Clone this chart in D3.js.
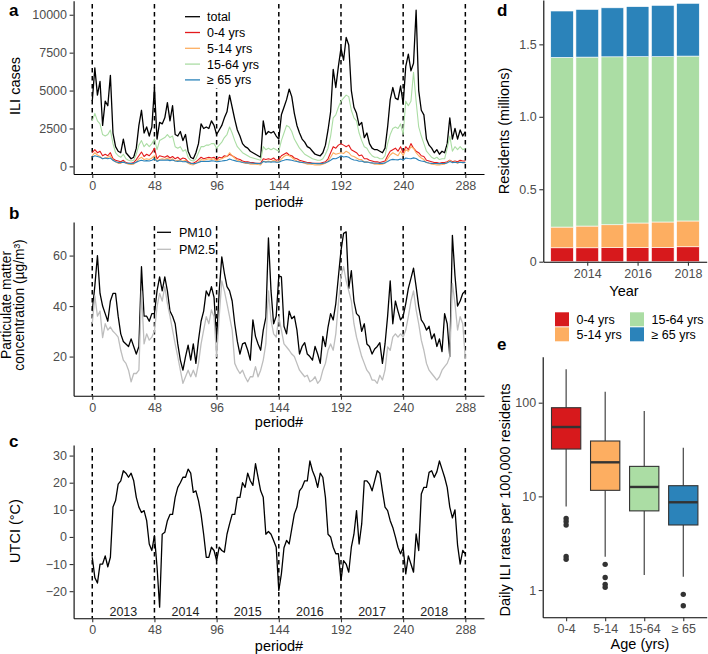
<!DOCTYPE html>
<html>
<head>
<meta charset="utf-8">
<script src="https://cdn.jsdelivr.net/npm/d3@7"></script>
<style>
body { margin: 0; background: #fff; }
svg { font-family: "Liberation Sans", Arial, sans-serif; }
</style>
</head>
<body>
<script>

// periods sampled every 2 (0..288)
var PERIOD = d3.range(0, 289, 2);

// panel a: ILI cases
var TOTAL = [4300,6500,4700,5600,2700,4300,4000,6000,2200,1300,1000,900,1800,900,700,500,600,1200,2700,3700,
  2200,2600,2000,2600,5200,1800,2900,2800,3200,4200,3000,4000,2100,2000,2300,1700,2100,1000,600,500,
  900,1500,2800,2500,2600,2500,3000,2700,2100,2400,2700,3200,3600,4700,3900,3100,2400,2000,1500,1300,
  1200,1000,900,800,700,600,3000,2100,2300,2200,2300,2000,1800,3400,3900,4400,5100,4600,3500,2700,
  2200,1800,1600,1300,1200,1000,800,750,700,900,1400,2400,3600,6400,5200,6600,7800,7000,8500,8000,
  5000,3900,3500,2700,2900,1900,2200,1500,1200,1100,1100,1000,900,1200,2600,4400,5200,4500,4400,5300,
  4100,6600,7400,6300,6800,10300,5000,3700,3400,1800,1400,1200,900,1100,800,1000,900,1500,3200,1800,
  2500,1800,2400,2000,2300];
var AGE_0_4 = [900,1100,900,1000,700,800,700,900,500,400,350,300,400,250,200,200,250,450,700,950,
  650,800,700,900,1200,500,700,650,600,700,550,650,500,600,450,550,500,300,200,200,
  300,450,600,500,550,600,550,600,450,600,550,700,650,800,700,600,500,450,350,300,
  300,250,250,200,200,200,500,450,500,450,550,400,450,700,800,900,750,700,550,500,
  400,350,300,250,250,200,200,200,200,250,300,500,900,1300,1200,1400,1500,1400,1300,1400,
  1100,1000,900,700,750,500,500,400,350,300,300,250,300,350,700,1000,1100,1200,1000,1300,
  900,1300,1100,1500,1200,1000,900,700,650,400,350,300,250,250,200,250,250,300,400,300,
  350,300,400,350,350];
var AGE_5_14 = [700,900,750,650,500,550,600,700,400,300,200,200,300,200,150,120,150,300,500,600,
  450,500,450,550,700,350,450,500,450,550,400,500,350,400,350,350,400,200,120,100,
  200,300,450,400,450,500,450,500,350,450,500,600,650,900,700,550,400,350,250,200,
  200,150,150,150,120,100,350,300,350,300,400,300,300,500,650,750,700,600,450,350,
  300,250,200,150,150,120,100,100,100,150,200,350,600,900,800,850,900,850,1000,900,
  700,650,550,450,450,300,300,250,200,150,150,120,150,200,500,750,900,800,700,1000,
  700,1100,1000,1300,1200,900,700,550,450,250,200,150,120,100,100,120,150,250,400,250,
  300,200,300,250,250];
var AGE_15_64 = [3000,3500,3000,2800,2100,2000,2100,2400,1500,900,700,600,800,500,400,350,400,800,1400,1700,
  1300,1500,1300,1500,1800,1100,1700,1800,1900,2100,1900,2000,1300,1200,1300,1000,1100,600,400,350,
  500,900,1300,1300,1400,1400,1500,1500,1200,1400,1600,1900,2100,2600,2200,1700,1300,1100,900,800,
  700,600,550,500,450,400,1300,1100,1200,1100,1200,1100,1000,1700,2200,2700,2600,2300,1800,1500,
  1200,1000,800,700,600,500,450,400,400,500,800,1200,2000,3200,3400,3900,4300,4500,4700,4600,
  3700,3200,3000,2200,1700,1300,1200,900,700,600,600,500,500,700,1500,2100,2500,2600,2500,2800,
  2100,4300,4000,4300,6200,4300,2600,2000,1500,1000,800,600,500,600,450,500,500,1200,2000,1000,
  1300,1100,1300,1100,1200];
var AGE_65 = [600,700,650,600,500,550,500,550,400,300,250,250,280,220,200,180,200,280,350,400,
  350,380,350,400,500,330,400,420,400,430,380,420,350,330,350,300,320,250,200,180,
  200,260,330,320,330,330,360,350,300,330,350,380,400,480,420,380,320,300,260,240,
  230,220,210,200,190,180,320,280,300,280,300,280,270,360,400,450,430,400,350,320,
  280,260,240,220,210,200,190,180,180,200,240,300,400,520,500,580,700,620,650,600,
  480,420,400,340,350,280,290,250,230,210,210,200,200,230,320,420,460,440,430,480,
  420,550,520,500,560,520,400,350,330,250,220,200,190,190,180,190,190,230,320,250,
  270,240,270,250,260];
var ILI_NAMES = ["total", "0-4 yrs", "5-14 yrs", "15-64 yrs", "\u2265 65 yrs"];
var ILI_COLORS = ["#000000", "#e41a1c", "#fdae61", "#abdda4", "#2b83ba"];

// panel b: particulate matter
var PM10 = [38,48,60,45,40,37,34,42,45,45,36,29,26,25,24,27,24,21,24,55.6,
  36,36,34,37,37,46,51.6,46,51.6,46,38,36,33,25,18.6,14.6,20,24.5,18.6,25,
  17.3,26.5,34,38,46,44,47.7,43.5,26.5,46,59.5,53,47.7,46,42,33,26,21,25,25.5,
  22.5,18.6,34.5,28,25,22.5,30.5,35.5,67,46,33,36,52,51.6,32,29,38,35,36,30.5,
  21,24,25.5,21,20,18.6,24,21,17.3,28,24,31.7,37,34.5,41,51.6,62,68.8,69.4,47,
  54,42,37,36,30,33,25,24,21,23,24,25.5,17.3,25,36,50,33,42,38,34.5,
  36,41,47,51,55,47.7,40,34.5,33,30.5,32,27,29,24,27,22,37,33,20,68,
  52,40,42,45,46];
var PM25 = [33,44,36,38,27.5,33,30.5,31.7,30,29,27.7,22.5,18.6,17.3,14.6,10,13.3,13.3,14.6,46,
  25,29,26.5,27.7,30,39.7,45,42,47.7,41,36,30.5,25,20,14.6,9.4,12,14.6,12,14.6,
  12,17.3,25,30.5,35.8,33,38.5,35.8,20,35.8,50,46,41,35.8,30.5,17.3,15,13.3,14.6,12,
  10,12,12,16,12,14.6,18.6,25,46,34.5,29,27.7,35.8,30.5,25,23.8,22.5,21,20,17.3,
  14.6,13.3,12,12.6,10,10.7,12,9.4,10.7,14.6,17.3,22.5,25,22.5,29,41,51.6,55.6,50,46,
  42,33,27.7,23.8,20,17.3,14.6,13.3,10.7,10.7,9.4,12.6,10.7,14.6,23.8,22.5,27.7,29,27.7,29,
  27.7,30.5,35.8,42,46,38.5,33,26.5,22.5,17.3,14.6,13.3,12,10.7,12,14.6,16,17.3,20,49,
  41,30.5,35.8,33,19];

// panel c: UTCI
var UTCI = [-7.5,-15,-17,-10,-10,-7,-11,-7.5,11,13.4,19.5,20.7,24.4,23.5,22,23.5,20.7,14.6,11,9,
  9.7,6,-2.6,-5,0.5,-11,-25.9,1,1.7,6,8.3,8.3,14.6,18.3,20,22,22,25,23.5,16.4,
  17,13.4,8.3,1,-7.5,-7.5,-3.8,-5,-8.7,-3.8,-5,-5.6,1,4.8,8.3,8.3,14.6,14.6,20,18.3,
  23.5,20.7,19,27,22,17,14.6,1,2,1,-1.3,-3.8,-19.7,-13.6,-4,-1.3,-2.6,3,8.5,11,
  17,18.3,20.7,20.7,28,24.4,22,18.3,23.5,22,14.6,1,0,-3.8,-6.2,-6.2,-16,-8.7,-10,-13,
  -3.8,1,9.7,-2.6,4.8,20.7,20.7,19.5,17,20.7,24.4,23.5,17,11,9.7,6,3.5,0,-3.8,-6.2,
  -3.8,-13.6,-7,-10,-13,1.1,-5,15.8,18.3,18.3,23.8,24.4,22,24,28,25,22,18.3,11,7,
  10,-3,-10,-5,-6.2];
var YEARS = ["2013", "2014", "2015", "2016", "2017", "2018"];
var PERIOD_TICKS = [0, 48, 96, 144, 192, 240, 288];

// panel d: residents (millions)
var RES_YEARS = [2013, 2014, 2015, 2016, 2017, 2018];
var RES_0_4 = [0.096, 0.096, 0.097, 0.097, 0.099, 0.103];
var RES_5_14 = [0.143, 0.150, 0.158, 0.170, 0.175, 0.178];
var RES_15_64 = [1.171, 1.166, 1.159, 1.148, 1.141, 1.138];
var RES_65 = [0.320, 0.329, 0.338, 0.345, 0.354, 0.364];
var AGE_LABELS = ["0-4 yrs", "5-14 yrs", "15-64 yrs", "\u2265 65 yrs"];
var AGE_COLORS = ["#d7191c", "#fdae61", "#abdda4", "#2b83ba"];

// panel e: daily ILI rates per 100,000 (box stats)
var BOX_GROUPS = ["0-4", "5-14", "15-64", "\u2265 65"];
var BOX_LOW = [7.8, 2.27, 1.45, 1.39];
var BOX_Q1 = [32, 11.6, 7.0, 4.95];
var BOX_MED = [55, 23.1, 12.6, 8.65];
var BOX_Q3 = [88.4, 39, 20.9, 13.0];
var BOX_HIGH = [227, 131, 81.5, 33.1];
var BOX_OUT = [[5.8, 5.4, 4.95, 2.28, 2.13], [1.88, 1.36, 1.15, 1.07], [], [0.90, 0.68]];


var svg = d3.select("body").append("svg")
    .attr("width", 708)
    .attr("height", 654);

function styleAxis(g) {
    g.select(".domain").attr("stroke", "#000").attr("stroke-width", 1.1);
    g.selectAll(".tick line").attr("stroke", "#333").attr("stroke-width", 1.1);
    g.selectAll(".tick text").attr("fill", "#4d4d4d").attr("font-size", 12.5);
}

function panelLabel(t, x, y) {
    svg.append("text").attr("x", x).attr("y", y)
        .attr("font-size", 17).attr("font-weight", "bold").text(t);
}

function ytitle(lines, x, y, fs, lh) {
    var t = svg.append("text")
        .attr("transform", "translate(" + x + "," + y + ") rotate(-90)")
        .attr("text-anchor", "middle").attr("font-size", fs || 14.5);
    lines.forEach(function (s, i) {
        t.append("tspan").attr("x", 0).attr("dy", i == 0 ? -(lines.length - 1) * lh : lh).text(s);
    });
}

function xtitle(s, x, y) {
    svg.append("text").attr("x", x).attr("y", y)
        .attr("text-anchor", "middle").attr("font-size", 14.5).text(s);
}

// time series panel with x axis in period#
function tsPanel(top, bottom, ydom, yticks) {
    var x = d3.scaleLinear().domain([-14.4, 302.4]).range([73.6, 484]);
    var y = d3.scaleLinear().domain(ydom).range([bottom, top]);
    return { x: x, y: y, top: top, bottom: bottom, yticks: yticks };
}

function drawAxes(p) {
    var gx = svg.append("g").attr("transform", "translate(0," + p.bottom + ")")
        .call(d3.axisBottom(p.x).tickValues(PERIOD_TICKS).tickSize(4).tickPadding(3).tickSizeOuter(0));
    styleAxis(gx);
    var gy = svg.append("g").attr("transform", "translate(73.6,0)")
        .call(d3.axisLeft(p.y).tickValues(p.yticks).tickFormat(d3.format("d"))
            .tickSize(4).tickPadding(2.6).tickSizeOuter(0));
    styleAxis(gy);
}

function vlines(p, y0) {
    svg.append("g").selectAll("line").data(PERIOD_TICKS).enter().append("line")
        .attr("x1", function (d) { return p.x(d); })
        .attr("x2", function (d) { return p.x(d); })
        .attr("y1", y0).attr("y2", p.bottom)
        .attr("stroke", "#000").attr("stroke-width", 1.5)
        .attr("stroke-dasharray", "4.5,3.5");
}

function series(p, vals, color, w) {
    var line = d3.line()
        .x(function (d, i) { return p.x(PERIOD[i]); })
        .y(function (d) { return p.y(d); });
    svg.append("path").datum(vals)
        .attr("d", line).attr("fill", "none")
        .attr("stroke", color).attr("stroke-width", w)
        .attr("stroke-linejoin", "round");
}

// ---- panel a
var pa = tsPanel(0.8, 174, [-503, 10920], [0, 2500, 5000, 7500, 10000]);
vlines(pa, 4);
series(pa, TOTAL, ILI_COLORS[0], 1.3);
series(pa, AGE_0_4, ILI_COLORS[1], 1.1);
series(pa, AGE_5_14, ILI_COLORS[2], 1.1);
series(pa, AGE_15_64, ILI_COLORS[3], 1.1);
series(pa, AGE_65, ILI_COLORS[4], 1.1);
drawAxes(pa);
svg.append("rect").attr("x", 180).attr("y", 2).attr("width", 94).attr("height", 86).attr("fill", "#fff");
ILI_NAMES.forEach(function (n, i) {
    var yy = 16.7 + i * 15.8;
    svg.append("line").attr("x1", 185).attr("x2", 200).attr("y1", yy).attr("y2", yy)
        .attr("stroke", ILI_COLORS[i]).attr("stroke-width", 1.3);
    svg.append("text").attr("x", 207).attr("y", yy + 4.4).attr("font-size", 12.5).text(n);
});
panelLabel("a", 9, 16);
ytitle(["ILI cases"], 20, 86);
xtitle("period#", 279, 207);

// ---- panel b
var pb = tsPanel(222, 395.7, [4.5, 73.3], [20, 40, 60]);
vlines(pb, 226);
series(pb, PM10, "#000", 1.3);
series(pb, PM25, "#bdbdbd", 1.3);
drawAxes(pb);
[["PM10", "#000"], ["PM2.5", "#bdbdbd"]].forEach(function (d, i) {
    var yy = 232.3 + i * 17;
    svg.append("line").attr("x1", 157).attr("x2", 171).attr("y1", yy).attr("y2", yy)
        .attr("stroke", d[1]).attr("stroke-width", 1.3);
    svg.append("text").attr("x", 179).attr("y", yy + 4.4).attr("font-size", 12.5).text(d[0]);
});
panelLabel("b", 9, 219);
ytitle(["Particulate matter", "concentration (\u00b5g/m\u00b3)"], 23.5, 305, 13.8, 12.3);
xtitle("period#", 279, 427);

// ---- panel c
var pc = tsPanel(445, 618.3, [-30, 33.9], [-20, -10, 0, 10, 20, 30]);
vlines(pc, 448);
series(pc, UTCI, "#000", 1.3);
drawAxes(pc);
YEARS.forEach(function (yr, i) {
    svg.append("text").attr("x", pc.x(24 + 48 * i)).attr("y", pc.y(-27.4) + 4.4)
        .attr("text-anchor", "middle").attr("font-size", 12.5).attr("fill", "#222").text(yr);
});
panelLabel("c", 9, 447);
ytitle(["UTCI (\u00b0C)"], 20, 531);
xtitle("period#", 279, 651);

// ---- panel d
var xd = d3.scaleLinear().domain([2012.255, 2018.745]).range([543.3, 706.7]);
var yd = d3.scaleLinear().domain([0, 1.806]).range([261.7, 0]);
var bw = xd(2013.45) - xd(2012.55);
var stackRows = RES_YEARS.map(function (yr, i) {
    return { year: yr, a: RES_0_4[i], b: RES_5_14[i], c: RES_15_64[i], d: RES_65[i] };
});
var stacked = d3.stack().keys(["a", "b", "c", "d"])(stackRows);
svg.append("g").selectAll("g").data(stacked).enter().append("g")
    .attr("fill", function (d, i) { return AGE_COLORS[i]; })
    .selectAll("rect").data(function (d) { return d; }).enter().append("rect")
    .attr("x", function (d) { return xd(d.data.year) - bw / 2; })
    .attr("width", bw)
    .attr("y", function (d) { return yd(d[1]); })
    .attr("height", function (d) { return yd(d[0]) - yd(d[1]); })
    .attr("stroke", "#fff").attr("stroke-width", 0.6);
var gdx = svg.append("g").attr("transform", "translate(0,261.7)")
    .call(d3.axisBottom(xd).tickValues([2014, 2016, 2018]).tickFormat(d3.format("d"))
        .tickSize(4).tickPadding(3).tickSizeOuter(0));
styleAxis(gdx);
var gdy = svg.append("g").attr("transform", "translate(543.3,0)")
    .call(d3.axisLeft(yd).tickValues([0, 0.5, 1.0, 1.5])
        .tickFormat(function (d) { return d == 0 ? "0" : d3.format(".1f")(d); })
        .tickSize(4).tickPadding(2.6).tickSizeOuter(0));
styleAxis(gdy);
panelLabel("d", 497, 16);
ytitle(["Residents (millions)"], 509, 131);
xtitle("Year", 624, 296);

// legend for d and e
AGE_LABELS.forEach(function (n, i) {
    var col = Math.floor(i / 2), row = i % 2;
    var kx = 555 + col * 75, ky = 312.3 + row * 15;
    svg.append("rect").attr("x", kx).attr("y", ky).attr("width", 14).attr("height", 14)
        .attr("fill", AGE_COLORS[i]);
    svg.append("text").attr("x", kx + 21.5).attr("y", ky + 11.5).attr("font-size", 12.5).text(n);
});

// ---- panel e
var xe = d3.scalePoint().domain(BOX_GROUPS).range([542.7, 706.7]).padding(0.6);
var ye = d3.scaleLog().domain([Math.pow(10, -0.291), Math.pow(10, 2.491)]).range([617.3, 356.7]);
var boxW = xe.step() * 0.75;
var ge = svg.append("g");
BOX_GROUPS.forEach(function (g, i) {
    var cx = xe(g);
    ge.append("line").attr("x1", cx).attr("x2", cx)
        .attr("y1", ye(BOX_HIGH[i])).attr("y2", ye(BOX_Q3[i]))
        .attr("stroke", "#333").attr("stroke-width", 1.1);
    ge.append("line").attr("x1", cx).attr("x2", cx)
        .attr("y1", ye(BOX_Q1[i])).attr("y2", ye(BOX_LOW[i]))
        .attr("stroke", "#333").attr("stroke-width", 1.1);
    ge.append("rect").attr("x", cx - boxW / 2).attr("width", boxW)
        .attr("y", ye(BOX_Q3[i])).attr("height", ye(BOX_Q1[i]) - ye(BOX_Q3[i]))
        .attr("fill", AGE_COLORS[i]).attr("stroke", "#333").attr("stroke-width", 1.1);
    ge.append("line").attr("x1", cx - boxW / 2).attr("x2", cx + boxW / 2)
        .attr("y1", ye(BOX_MED[i])).attr("y2", ye(BOX_MED[i]))
        .attr("stroke", "#333").attr("stroke-width", 2.4);
    BOX_OUT[i].forEach(function (v) {
        ge.append("circle").attr("cx", cx).attr("cy", ye(v)).attr("r", 2.7).attr("fill", "#333");
    });
});
var gex = svg.append("g").attr("transform", "translate(0,617.3)")
    .call(d3.axisBottom(xe).tickSize(4).tickPadding(3).tickSizeOuter(0));
styleAxis(gex);
var gey = svg.append("g").attr("transform", "translate(542.7,0)")
    .call(d3.axisLeft(ye).tickValues([1, 10, 100]).tickFormat(d3.format("d"))
        .tickSize(4).tickPadding(2.6).tickSizeOuter(0));
styleAxis(gey);
panelLabel("e", 497, 350);
ytitle(["Daily ILI rates per 100,000 residents"], 510, 500);
xtitle("Age (yrs)", 640, 649);

</script>
</body>
</html>
